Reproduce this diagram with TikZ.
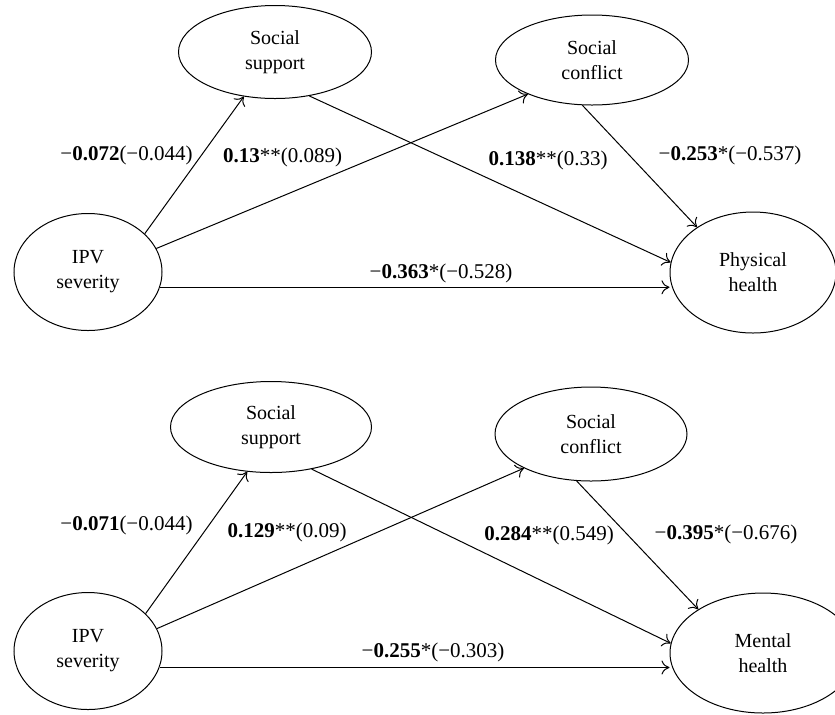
\documentclass[tikz,border=0pt]{standalone}
\usepackage{fontspec}
\setmainfont{Liberation Serif}
\usetikzlibrary{shapes.geometric,arrows.meta}
\begin{document}
\begin{tikzpicture}[x=0.5pt,y=-0.5pt,
  var/.style={ellipse,draw,line width=0.5pt,inner sep=0pt,align=center,font=\fontsize{10}{12.5}\selectfont},
  lab/.style={inner sep=0pt,font=\fontsize{10.5}{12}\selectfont},
  arr/.style={line width=0.5pt,-{To[length=4pt,width=7pt]}}]
\useasboundingbox (0,0) rectangle (835,714);
% ---------- top panel ----------
\node[var,minimum width=96.5pt,minimum height=46.5pt] (ss1) at (275,52) {Social\\support};
\node[var,minimum width=96.5pt,minimum height=45pt] (sc1) at (592,60) {Social\\conflict};
\node[var,minimum width=74pt,minimum height=58.5pt] (ipv1) at (88,272) {IPV\\severity};
\node[var,minimum width=83pt,minimum height=60.5pt] (ph) at (753,272.5) {Physical\\health};
\draw[arr] (ipv1.34) -- (ss1.235);
\draw[arr] (ipv1.19) -- (sc1.208);
\draw[arr] (ss1.-52) -- (ph.173);
\draw[arr] (sc1.258) -- (ph.141);
\draw[arr] (ipv1.-12) -- (ipv1.-12 -| ph.west);
\node[lab] (l1) at (126.5,155) {−\textbf{0.072}(−0.044)};
\node[lab] (l2) at (282.5,157.5) {\textbf{0.13}**(0.089)};
\node[lab] (l3) at (548,160) {\textbf{0.138}**(0.33)};
\node[lab] (l4) at (730,155) {−\textbf{0.253}*(−0.537)};
\node[lab] (l5) at (441,273) {−\textbf{0.363}*(−0.528)};
% ---------- bottom panel ----------
\node[var,minimum width=100.5pt,minimum height=45.5pt] (ss2) at (271,427) {Social\\support};
\node[var,minimum width=96pt,minimum height=47pt] (sc2) at (591,434) {Social\\conflict};
\node[var,minimum width=74pt,minimum height=58.5pt] (ipv2) at (88,651) {IPV\\severity};
\node[var,minimum width=93pt,minimum height=60pt] (mh) at (763,653) {Mental\\health};
\draw[arr] (ipv2.33) -- (ss2.242);
\draw[arr] (ipv2.18) -- (sc2.207);
\draw[arr] (ss2.-46) -- (mh.174);
\draw[arr] (sc2.253) -- (mh.146);
\draw[arr] (ipv2.-13) -- (ipv2.-13 -| mh.west);
\node[lab] (b1) at (126.5,525) {−\textbf{0.071}(−0.044)};
\node[lab] (b2) at (287,532) {\textbf{0.129}**(0.09)};
\node[lab] (b3) at (549,535) {\textbf{0.284}**(0.549)};
\node[lab] (b4) at (726,534) {−\textbf{0.395}*(−0.676)};
\node[lab] (b5) at (433,652) {−\textbf{0.255}*(−0.303)};
\end{tikzpicture}
\end{document}
